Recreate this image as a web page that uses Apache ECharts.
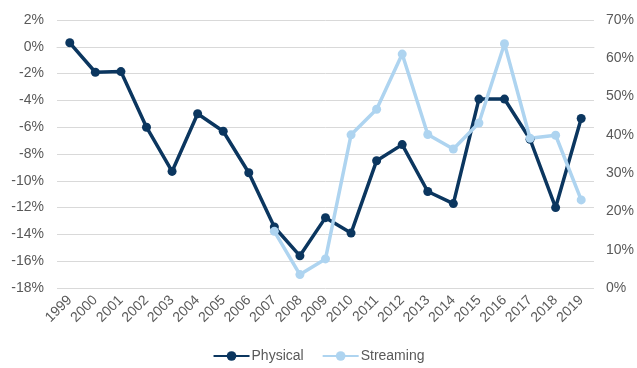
<!DOCTYPE html>
<html>
<head>
<meta charset="utf-8">
<script src="https://cdn.jsdelivr.net/npm/echarts@6/dist/echarts.min.js"></script>
<style>
    html, body { margin: 0; padding: 0; background: #fff; }
    #chart { width: 637px; height: 368px; }
</style>
</head>
<body>
<div id="chart"></div>
<script>
    let years = ['1999', '2000', '2001', '2002', '2003', '2004', '2005', '2006', '2007', '2008',
        '2009', '2010', '2011', '2012', '2013', '2014', '2015', '2016', '2017', '2018', '2019'];
    // 实体唱片增长率 (左轴, %)
    let physical = [0.3, -1.9, -1.85, -6.0, -9.3, -5.0, -6.3, -9.4, -13.45, -15.6,
        -12.75, -13.9, -8.5, -7.3, -10.8, -11.7, -3.9, -3.9, -6.9, -12.0, -5.35];
    // 流媒体增长率 (右轴, %)
    let streaming = [null, null, null, null, null, null, null, null, 14.8, 3.5,
        7.6, 40.0, 46.7, 61.1, 40.1, 36.3, 43.1, 63.8, 39.1, 39.9, 23.0];
    let leftTicks = { min: -18, max: 2, interval: 2 };
    let rightTicks = { min: 0, max: 70, interval: 10 };

    let myChart = echarts.init(document.getElementById('chart'));
    let labelColor = '#595959';
    let font = 'Liberation Sans, Arial, sans-serif';
    let option = {
        animation: false,
        textStyle: { fontFamily: font },
        grid: {
            top: 20,
            left: 57,
            right: 42,
            bottom: 80
        },
        legend: {
            bottom: 0,
            itemWidth: 36,
            itemHeight: 12,
            itemGap: 18,
            textStyle: { color: labelColor, fontSize: 14, fontFamily: font, padding: [0, 0, 0, -3] },
            data: ['Physical', 'Streaming']
        },
        xAxis: [{
            type: 'category',
            data: years,
            boundaryGap: true,
            axisLine: { show: true, lineStyle: { color: '#d9d9d9' } },
            axisTick: { show: false },
            axisLabel: {
                color: labelColor,
                fontSize: 14,
                rotate: 45,
                interval: 0,
                margin: 10
            }
        }],
        yAxis: [{
            type: 'value',
            min: leftTicks.min,
            max: leftTicks.max,
            interval: leftTicks.interval,
            axisLine: { show: false },
            axisTick: { show: false },
            splitLine: { show: true, lineStyle: { color: '#d9d9d9', width: 1 } },
            axisLabel: {
                color: labelColor,
                fontSize: 14,
                margin: 13,
                formatter: v => v + '%'
            }
        }, {
            type: 'value',
            position: 'right',
            min: rightTicks.min,
            max: rightTicks.max,
            interval: rightTicks.interval,
            axisLine: { show: false },
            axisTick: { show: false },
            splitLine: { show: false },
            axisLabel: {
                color: labelColor,
                fontSize: 14,
                margin: 12,
                formatter: v => v + '%'
            }
        }],
        series: [
            {
                name: 'Physical',
                type: 'line',
                yAxisIndex: 0,
                symbol: 'circle',
                symbolSize: 9,
                lineStyle: { color: '#0b365f', width: 3.5 },
                itemStyle: { color: '#0b365f' },
                data: physical
            },
            {
                name: 'Streaming',
                type: 'line',
                yAxisIndex: 1,
                symbol: 'circle',
                symbolSize: 9,
                lineStyle: { color: '#aed4f0', width: 3.5 },
                itemStyle: { color: '#aed4f0' },
                data: streaming
            }
        ]
    };
    myChart.setOption(option);
</script>
</body>
</html>
